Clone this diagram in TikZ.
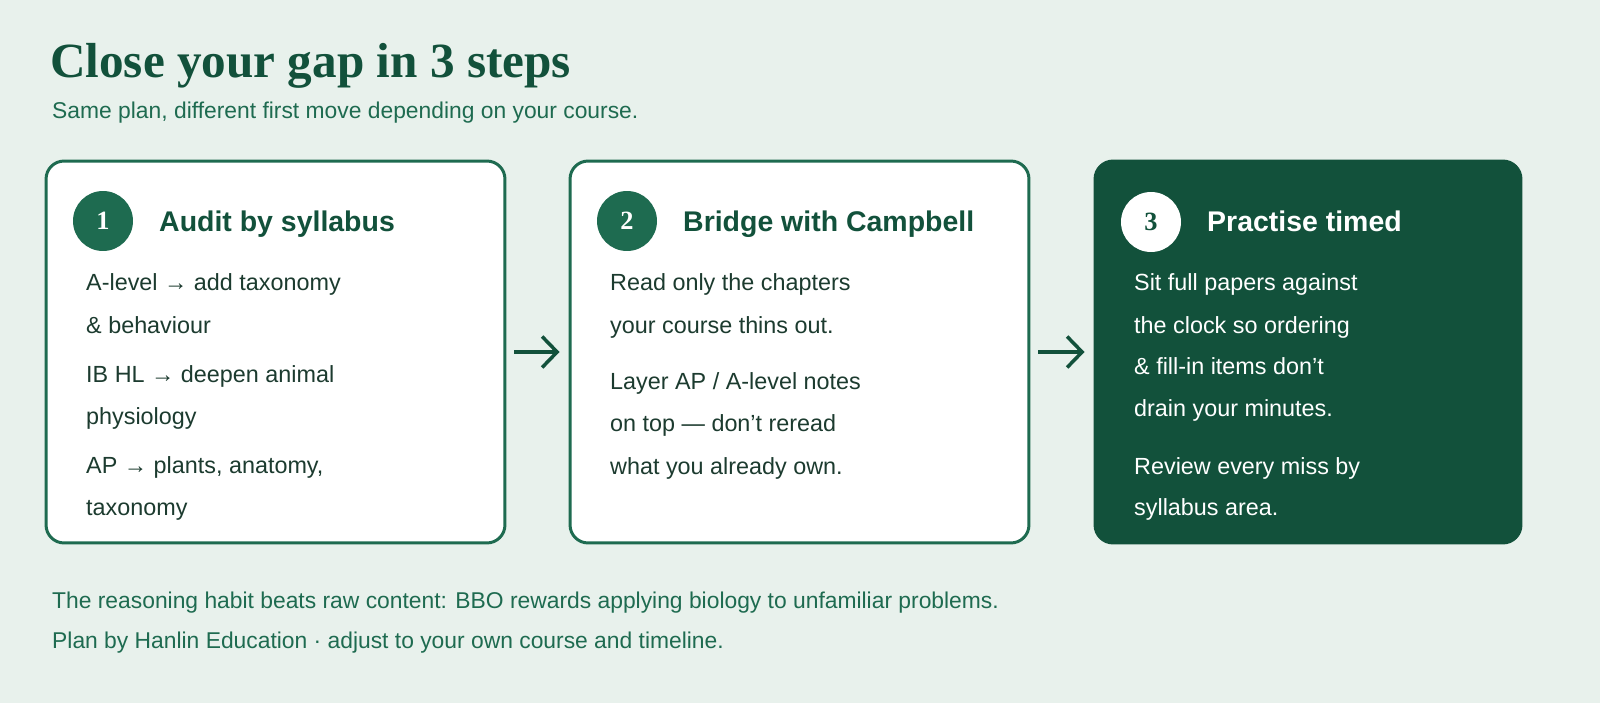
\documentclass[tikz,border=0pt]{standalone}
\usepackage{fontspec}
\setmainfont{Liberation Sans}
\newfontfamily\titlefont{Liberation Serif}
\usetikzlibrary{arrows.meta}
\definecolor{bgmint}{HTML}{E8F1EC}
\definecolor{deepgreen}{HTML}{12513B}
\definecolor{rimgreen}{HTML}{1E6B50}
\definecolor{inkgreen}{HTML}{1C3B2F}
\tikzset{
  stepbox/.style={rounded corners=0.36cm, line width=1.7pt, draw=rimgreen, fill=white,
    minimum width=9.18cm, minimum height=7.64cm, inner sep=0pt},
  badge/.style={circle, minimum size=1.2cm, inner sep=0pt, font=\titlefont\bfseries\fontsize{15}{15}\selectfont},
  head/.style={anchor=base west, font=\bfseries\fontsize{16.2}{18}\selectfont},
  line/.style={anchor=base west, font=\fontsize{13.3}{15}\selectfont},
  flow/.style={-{Straight Barb[length=0.3cm,width=0.62cm,line width=2pt]}, line width=2pt, draw=deepgreen, shorten <=0.16cm, shorten >=0.18cm}
}
\begin{document}
\begin{tikzpicture}[x=0.02cm,y=-0.02cm]
\fill[bgmint] (0,0) rectangle (1600,703);
\useasboundingbox (0,0) rectangle (1600,703);
% heading
\node[anchor=base west, text=deepgreen, font=\titlefont\bfseries\fontsize{28}{32}\selectfont] (title) at (44,77) {Close your gap in 3 steps};
\node[anchor=base west, text=rimgreen, font=\fontsize{13}{15}\selectfont] (sub) at (46,118) {Same plan, different first move depending on your course.};
% the three steps
\node[stepbox] (s1) at (275.5,352) {};
\node[stepbox] (s2) at (799.5,352) {};
\node[stepbox, draw=deepgreen, fill=deepgreen, minimum width=8.52cm] (s3) at (1308,352) {};
\node[badge, fill=rimgreen, text=white] (n1) at (103,221) {1};
\node[badge, fill=rimgreen, text=white] (n2) at (627,221) {2};
\node[badge, fill=white, text=deepgreen] (n3) at (1151,222) {3};
\node[head, text=deepgreen] (h1) at (153,231) {Audit by syllabus};
\node[head, text=deepgreen] (h2) at (677,231) {Bridge with Campbell};
\node[head, text=white] (h3) at (1201,231) {Practise timed};
% body lines
\foreach \y/\t in {290/{A-level → add taxonomy}, 333/{\& behaviour},
  382/{IB HL → deepen animal}, 424/{physiology},
  473/{AP → plants, anatomy,}, 515/{taxonomy}}
  \node[line, text=inkgreen] at (80,\y) {\t};
\foreach \y/\t in {290/{Read only the chapters}, 333/{your course thins out.},
  389/{Layer AP / A-level notes}, 431/{on top --- don't reread}, 474/{what you already own.}}
  \node[line, text=inkgreen] at (604,\y) {\t};
\foreach \y/\t in {290/{Sit full papers against}, 333/{the clock so ordering},
  374/{\& fill-in items don't}, 416/{drain your minutes.},
  474/{Review every miss by}, 515/{syllabus area.}}
  \node[line, text=white] at (1128,\y) {\t};
% connectors
\draw[flow] (s1) -- (s2);
\draw[flow] (s2) -- (s3);
% footer
\node[anchor=base west, text=rimgreen, font=\fontsize{13}{15}\selectfont] (note) at (46,608) {The reasoning habit beats raw content: BBO rewards applying biology to unfamiliar problems.};
\node[anchor=base west, text=rimgreen, font=\fontsize{13}{15}\selectfont] (credit) at (46,648) {Plan by Hanlin Education · adjust to your own course and timeline.};
\end{tikzpicture}
\end{document}
